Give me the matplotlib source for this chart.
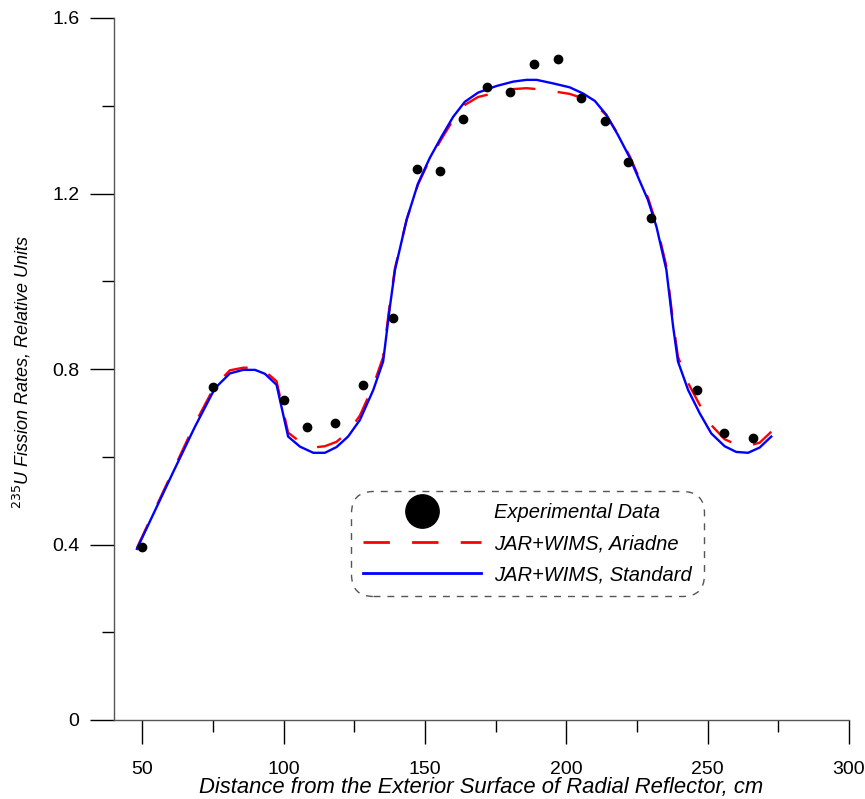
import matplotlib
matplotlib.use("Agg")
import matplotlib.pyplot as plt
from matplotlib.ticker import MultipleLocator

plt.rcParams['font.family'] = ['Liberation Sans', 'DejaVu Sans']

# Experimental data
exp_x = [49.9, 75.0, 100.1, 108.2, 118.1, 128.0, 138.7, 147.1, 155.3, 163.4, 171.9,
         180.0, 188.5, 197.0, 205.1, 213.6, 221.8, 229.9, 246.2, 255.7, 266.0]
exp_y = [0.394, 0.759, 0.729, 0.668, 0.677, 0.764, 0.916, 1.256, 1.251, 1.370, 1.443,
         1.431, 1.495, 1.507, 1.418, 1.365, 1.272, 1.144, 0.752, 0.654, 0.643]

# Model curves
calc_x = [48.1, 61.0, 68.6, 75.7, 81.0, 85.7, 89.9, 93.4, 97.5, 101.6,
          105.8, 110.5, 114.6, 118.7, 122.8, 127.0, 131.7, 135.2, 137.6, 139.4,
          143.5, 147.5, 151.7, 155.9, 160.0, 164.1, 168.8, 175.3, 181.2, 185.9,
          189.5, 195.3, 201.2, 205.9, 210.1, 214.2, 218.3, 222.5, 226.0, 228.9,
          231.9, 235.4, 237.8, 239.5, 243.1, 247.2, 251.3, 256.0, 260.1, 264.3,
          268.4, 272.5]
standard_y = [0.390, 0.566, 0.668, 0.756, 0.790, 0.798, 0.798, 0.789, 0.764, 0.646,
              0.623, 0.609, 0.609, 0.622, 0.646, 0.684, 0.752, 0.817, 0.942, 1.026,
              1.140, 1.222, 1.281, 1.330, 1.375, 1.409, 1.430, 1.445, 1.455, 1.459,
              1.459, 1.451, 1.442, 1.428, 1.411, 1.379, 1.333, 1.281, 1.228, 1.185,
              1.124, 1.026, 0.896, 0.817, 0.752, 0.699, 0.653, 0.624, 0.611, 0.609,
              0.621, 0.646]
ariadne_y = [0.392, 0.570, 0.675, 0.762, 0.797, 0.803, 0.803, 0.795, 0.772, 0.655,
             0.634, 0.621, 0.624, 0.634, 0.656, 0.694, 0.762, 0.827, 0.950, 1.030,
             1.140, 1.220, 1.278, 1.325, 1.368, 1.402, 1.420, 1.430, 1.438, 1.440,
             1.438, 1.433, 1.427, 1.417, 1.404, 1.378, 1.335, 1.284, 1.232, 1.190,
             1.130, 1.034, 0.905, 0.828, 0.768, 0.718, 0.672, 0.640, 0.628, 0.625,
             0.632, 0.657]

labels = ["Experimental Data", "JAR+WIMS, Ariadne", "JAR+WIMS, Standard"]

W, H = 865, 799
fig = plt.figure(figsize=(W / 100, H / 100), dpi=100)
ax = fig.add_axes([114 / W, 1 - 720 / H, (849 - 114) / W, (720 - 18) / H])

LW = 1.7
ax.plot(exp_x, exp_y, 'o', color='black', markersize=6, zorder=5)
ax.plot(calc_x, ariadne_y, color='red', lw=LW, dashes=(11, 9.5), zorder=3)
ax.plot(calc_x, standard_y, color='blue', lw=LW, zorder=4)

ax.set_xlim(40, 300)
ax.set_ylim(0, 1.6)
ax.set_xticks([50, 100, 150, 200, 250, 300])
ax.xaxis.set_minor_locator(MultipleLocator(25))
ax.set_yticks([0, 0.4, 0.8, 1.2, 1.6])
ax.set_yticklabels(['0', '0.4', '0.8', '1.2', '1.6'])
ax.yaxis.set_minor_locator(MultipleLocator(0.2))
ax.tick_params(axis='both', which='major', length=17, width=1, direction='out',
               labelsize=14, color='black')
ax.tick_params(axis='both', which='minor', length=8.5, width=1, direction='out',
               color='black')
ax.tick_params(axis='y', which='major', pad=8)
ax.tick_params(axis='x', which='major', pad=12.5)
for s in ['top', 'right']:
    ax.spines[s].set_visible(False)
for s in ['left', 'bottom']:
    ax.spines[s].set_color('#555555')
    ax.spines[s].set_linewidth(1)

ax.set_xlabel("Distance from the Exterior Surface of Radial Reflector, cm",
              fontsize=15.8, style='italic', labelpad=-1)
fig.text(22 / W, 1 - 372 / H, r"$^{235}$U Fission Rates, Relative Units",
         rotation=90, fontsize=13, style='italic', ha='center', va='center')

# legend
h1, = ax.plot([], [], 'o', color='black', markersize=24)
h2, = ax.plot([], [], color='red', lw=2, dashes=(9.5, 8))
h3, = ax.plot([], [], color='blue', lw=2)
leg = ax.legend([h1, h2, h3], labels, loc='upper left',
                bbox_to_anchor=(351 / W, 1 - 491 / H), bbox_transform=fig.transFigure,
                prop={'size': 14.5, 'style': 'italic'}, handlelength=5.87,
                handletextpad=0.63, labelspacing=0.6, borderpad=0.6,
                borderaxespad=0, fancybox=True, framealpha=1)
frame = leg.get_frame()
frame.set_boxstyle('round', pad=0, rounding_size=1.1)
frame.set_edgecolor('#555555')
frame.set_linestyle((0, (5, 5)))
frame.set_linewidth(1)

fig.savefig('out.png', dpi=100)
